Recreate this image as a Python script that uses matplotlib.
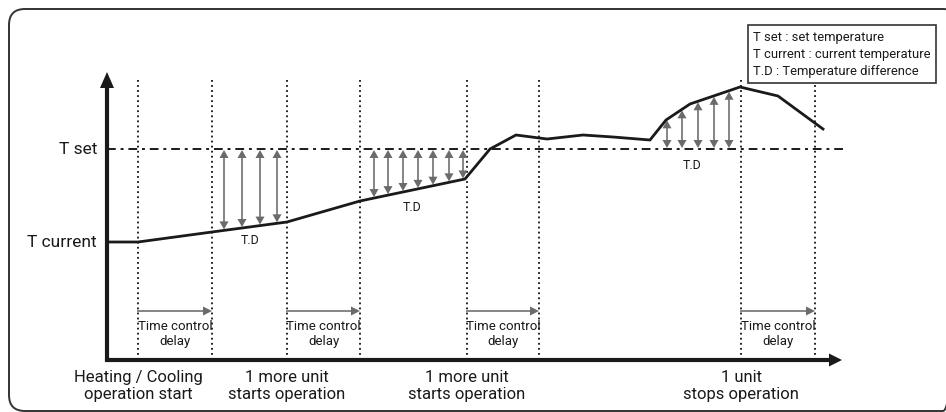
import matplotlib.pyplot as plt
import numpy as np
from matplotlib.patches import FancyBboxPatch, Rectangle

plt.rcParams['font.family'] = ['Roboto', 'DejaVu Sans']

# --- data (pixel-like diagram units, y grows downward) ---
t_set = 149
t_current = 242
curve_x = [107, 138, 212, 287, 360, 465, 490, 516, 547, 583, 613, 650, 666, 690, 740, 778, 823]
curve_y = [242, 242, 232, 222, 201, 179, 149, 135, 139, 135, 137, 140, 120, 104, 87, 96, 129]

event_x = [138, 287, 467, 741]          # operation events
delay_end = [212, 360, 539, 815]        # end of time control delay
event_labels = ["Heating / Cooling\noperation start",
                "1 more unit\nstarts operation",
                "1 more unit\nstarts operation",
                "1 unit\nstops operation"]

td_group1 = [224, 242, 260, 277]
td_group2 = [374, 388, 403, 418, 433, 449, 463]
td_group3 = [667, 682, 698, 714, 729]
td_labels_x = [250, 412, 692]
td_labels_y = [240, 207, 165]

legend_lines = ["T set : set temperature",
                "T current : current temperature",
                "T.D : Temperature difference"]

BLACK = '#1a1a1a'
GRAY = '#858585'
GRAY_HEAD = '#6b6b6b'

fig = plt.figure(figsize=(9.46, 4.12), dpi=100)
ax = fig.add_axes([0, 0, 1, 1])
ax.set_xlim(0, 946)
ax.set_ylim(412, 0)
ax.axis('off')


def head(x, y, dx, dy, length, width, color):
    # filled triangle with its tip at (x, y), pointing along (dx, dy)
    px, py = -dy, dx
    bx, by = x - dx * length, y - dy * length
    ax.fill([x, bx + px * width / 2, bx - px * width / 2],
            [y, by + py * width / 2, by - py * width / 2],
            color=color, lw=0, zorder=5)


def double_arrow(x, y1, y2):
    # gray arrow with heads at both ends, y1 < y2
    ax.plot([x, x], [y1 + 6, y2 - 6], color=GRAY, lw=1.4, zorder=4)
    head(x, y1, 0, -1, 8, 9, GRAY_HEAD)
    head(x, y2, 0, 1, 8, 9, GRAY_HEAD)


# outer rounded frame
ax.add_patch(FancyBboxPatch((9, 9), 950, 402, boxstyle="round,pad=0,rounding_size=16",
                            fc='none', ec='#333333', lw=1.4, clip_on=True))

# axes with arrows
x0, y0 = 107, 360
ax.plot([x0, x0], [y0 + 1.5, 86], color=BLACK, lw=3, solid_capstyle='butt', zorder=6)
head(x0, 72, 0, -1, 16, 14, BLACK)
ax.plot([x0 - 1.5, 830], [y0, y0], color=BLACK, lw=3, solid_capstyle='butt', zorder=6)
head(842, y0, 1, 0, 13, 13, BLACK)

# event / delay dotted verticals
for x in sorted(event_x + delay_end):
    ax.plot([x, x], [80, y0], color='#111111', lw=1.3, ls=(0, (1.0, 1.8)), zorder=3)

# set temperature line
ax.plot([x0, 845], [t_set, t_set], color=BLACK, lw=1.4, ls=(0, (4.5, 2.5, 1.5, 2.5)), zorder=3)

# temperature curve
ax.plot(curve_x, curve_y, color=BLACK, lw=2, solid_joinstyle='miter', zorder=6)

# temperature difference arrows
for x in td_group1 + td_group2:
    cy = np.interp(x, curve_x, curve_y)
    double_arrow(x, t_set + 1, cy - 1)
for x in td_group3:
    cy = np.interp(x, curve_x, curve_y)
    double_arrow(x, cy + 1, t_set - 1)
for x, y in zip(td_labels_x, td_labels_y):
    ax.text(x, y, "T.D", ha='center', va='center', fontsize=9, color=BLACK)

# time control delay arrows
for xs, xe in zip(event_x, delay_end):
    ax.plot([xs, xe - 8], [311, 311], color=GRAY, lw=1.4, zorder=4)
    head(xe, 311, 1, 0, 9, 9, GRAY_HEAD)
    ax.text((xs + xe) / 2, 334, "Time control\ndelay", ha='center', va='center',
            fontsize=9.5, linespacing=1.15, color=BLACK)

# event labels
for x, lab in zip(event_x, event_labels):
    ax.text(x, 386, lab, ha='center', va='center', fontsize=12, linespacing=1.1, color=BLACK)

# y labels
ax.text(97, t_set, "T set", ha='right', va='center', fontsize=12.5, color=BLACK)
ax.text(97, t_current, "T current", ha='right', va='center', fontsize=12.5, color=BLACK)

# legend box
ax.add_patch(Rectangle((748, 25), 188, 58, fc='white', ec='#333333', lw=1.2, zorder=7))
for i, line in enumerate(legend_lines):
    ax.text(753, 37 + i * 17, line, ha='left', va='center', fontsize=9.4, color=BLACK, zorder=8)

fig.savefig('out.png', dpi=100)
